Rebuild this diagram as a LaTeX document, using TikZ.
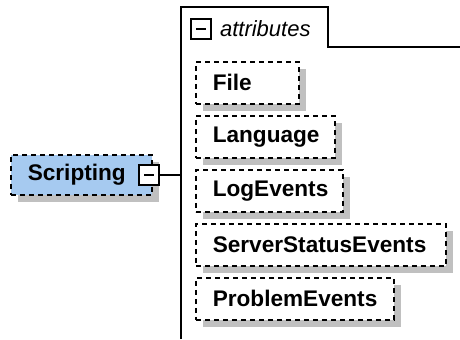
\documentclass[tikz,border=0pt]{standalone}
\usepackage{fontspec}
\setmainfont{Liberation Sans}
\usetikzlibrary{shadows}
\definecolor{elemblue}{RGB}{166,202,240}
\definecolor{shadegray}{RGB}{192,192,192}

\begin{document}
\begin{tikzpicture}[x=0.5pt,y=-0.5pt,
  box/.style={draw, dash pattern=on 2.5pt off 2pt, line width=0.8pt, fill=white,
    general shadow={fill=shadegray, shadow xshift=3.75pt, shadow yshift=-3.75pt},
    anchor=north west, minimum height=21pt, inner xsep=8.5pt, inner ysep=0pt,
    align=left, font=\fontsize{11.3}{13}\selectfont\bfseries},
  toggle/.style={draw, line width=0.7pt, fill=white, minimum size=10pt, inner sep=0pt,
    path picture={\draw[line width=0.7pt] ([xshift=2.5pt]path picture bounding box.west)
      -- ([xshift=-2.5pt]path picture bounding box.east);}},
  frame/.style={line width=0.9pt}]
  \useasboundingbox (0,0) rectangle (460,339);
  % attribute group
  \draw[frame] (181,339) -- (181,7) -- (328,7) -- (328,47) -- (460,47);
  \coordinate (grp) at (181,175);
  \node[toggle] (attrtoggle) at (201,29) {};
  \node[anchor=west, font=\fontsize{11}{13}\selectfont\itshape] (attrlabel) at (213,29) {attributes};
  \foreach \nm/\lab/\w/\y in {file/File/34.5/61, language/Language/52.5/115,
      logevents/LogEvents/56.5/169, serverstatus/ServerStatusEvents/108/223,
      problem/ProblemEvents/82/277}{
    \node[box, text width=\w pt] (\nm) at (195,\y) {\lab};}
  % element
  \node[box, fill=elemblue, minimum height=20pt, text width=53.5pt] (scripting) at (10,154) {Scripting};
  \node[toggle] (scripttoggle) at (149,175) {};
  \draw[frame] (scripttoggle.east) -- (scripttoggle.east -| grp);
\end{tikzpicture}
\end{document}
